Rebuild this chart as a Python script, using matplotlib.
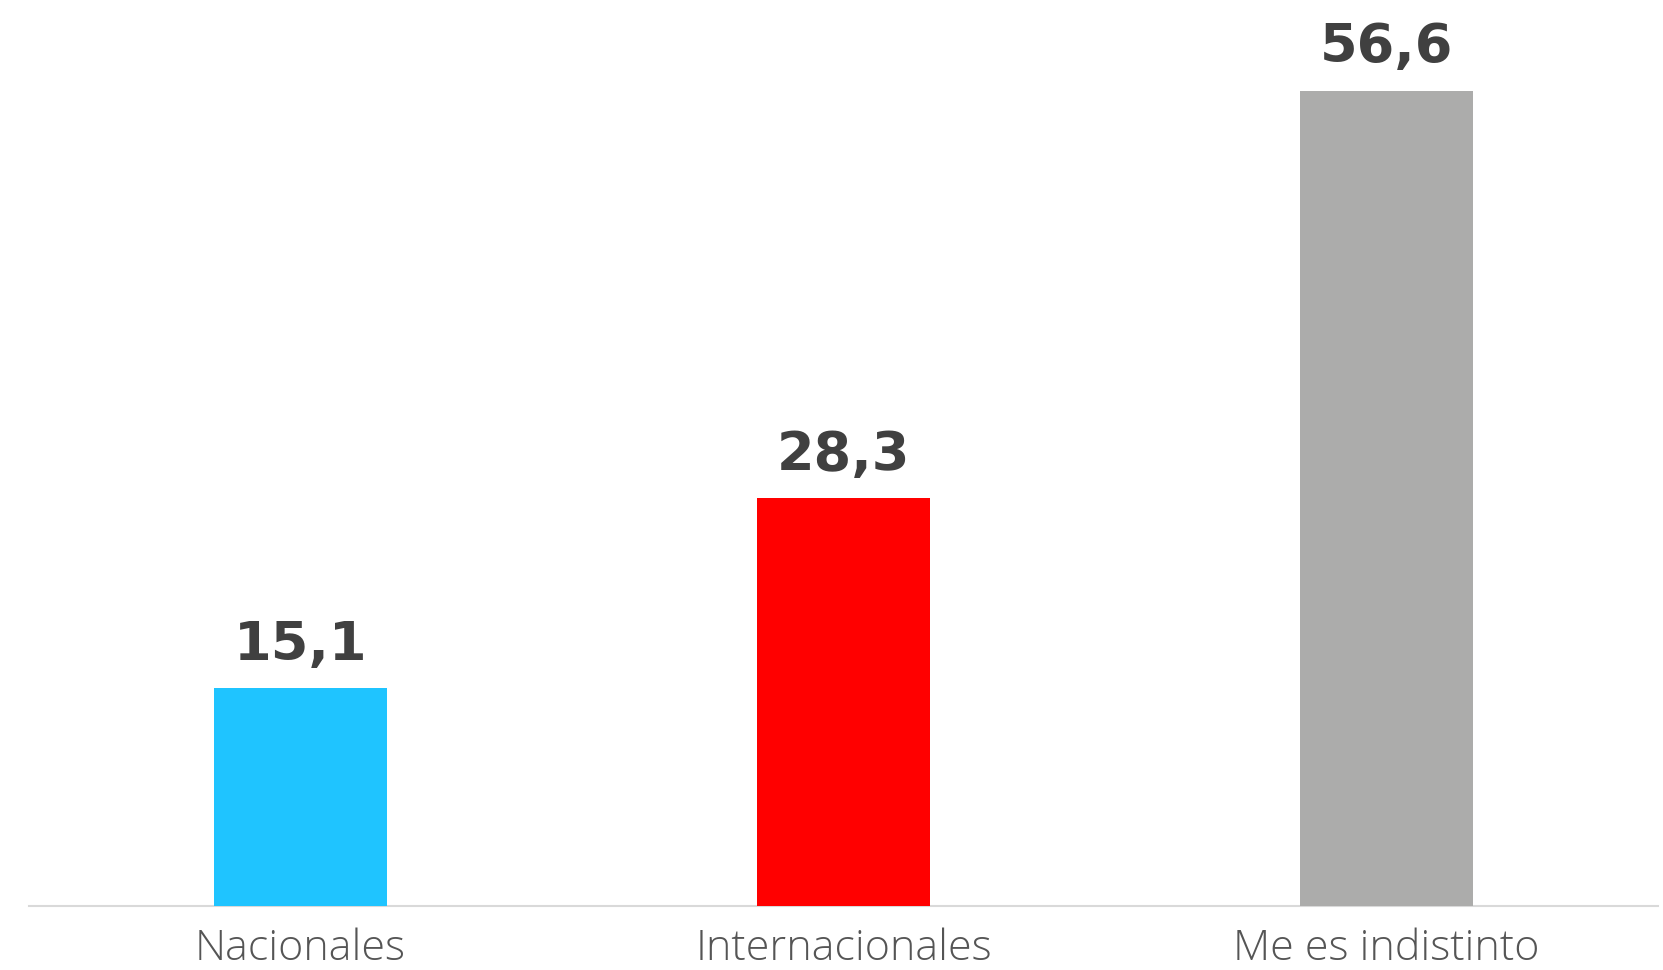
import matplotlib.pyplot as plt
import numpy as np

categories = ["Nacionales", "Internacionales", "Me es indistinto"]
values = [15.1, 28.3, 56.6]
value_labels = ["15,1", "28,3", "56,6"]
colors = ["#1fc4ff", "#ff0000", "#acacab"]


def main():
    fig = plt.figure(figsize=(16.63, 9.705), dpi=100)
    ax = fig.add_axes([0.0174, 0.066, 0.9796, 0.840])

    x = np.arange(len(categories))
    ax.bar(x, values, width=0.317, color=colors, zorder=2)

    for xi, v, lab in zip(x, values, value_labels):
        ax.annotate(lab, (xi, v), xytext=(0, 21), textcoords="offset points",
                    ha="center", va="baseline", fontsize=39,
                    fontweight="bold", family="DejaVu Sans",
                    color="#404040", annotation_clip=False)

    ax.set_xlim(-0.5, 2.5)
    ax.set_ylim(0, max(values))
    ax.set_xticks(x)
    ax.set_xticklabels(categories, fontsize=31, color="#555555",
                       family="Open Sans", fontweight=300)
    ax.tick_params(axis="x", length=0, pad=15)
    ax.set_yticks([])
    for side in ("top", "left", "right"):
        ax.spines[side].set_visible(False)
    ax.spines["bottom"].set_color("#d9d9d9")
    ax.spines["bottom"].set_linewidth(1.5)
    ax.spines["bottom"].set_zorder(1)

    fig.savefig("out.png", dpi=100)


if __name__ == "__main__":
    main()
